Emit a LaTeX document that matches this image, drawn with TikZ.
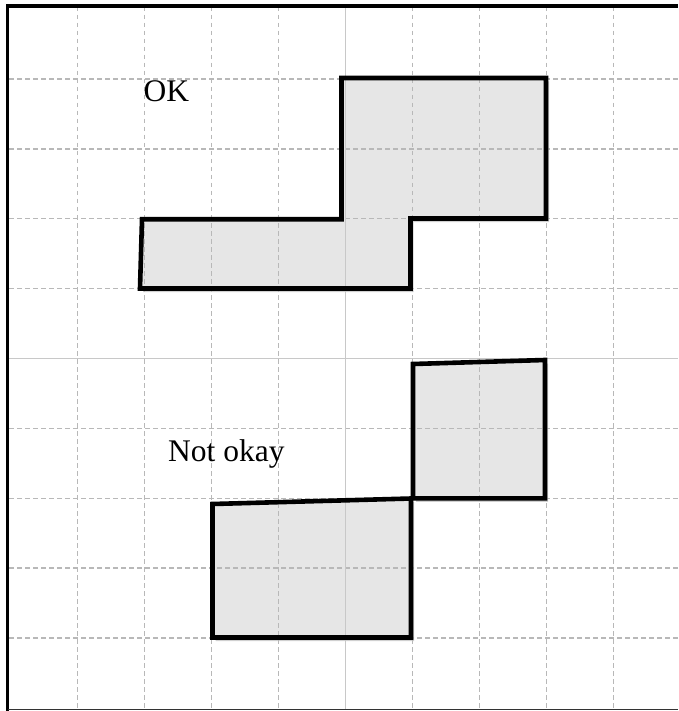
\documentclass[tikz,border=0pt]{standalone}
\usepackage{fontspec}
\setmainfont{Liberation Serif}
\usetikzlibrary{shadows}
\definecolor{gridc}{HTML}{B8B8B8}
\definecolor{axisc}{HTML}{C8C8C8}
\definecolor{shapefill}{HTML}{E6E6E6}
\tikzset{
  gridline/.style={draw=gridc, line width=1.5pt, dash pattern=on 4.5pt off 3.5pt},
  axisline/.style={draw=axisc, line width=1.5pt},
  shapebody/.style={fill=shapefill, drop shadow={shadow xshift=3pt, shadow yshift=-3.5pt, opacity=0.3, fill=black!60}},
  shapeedge/.style={draw=black, line width=4.6pt, line join=miter},
  lbl/.style={font=\fontsize{31.5}{36}\selectfont, inner sep=0pt, anchor=base west}
}
\begin{document}
\begin{tikzpicture}[x=1pt, y=-1pt]
\useasboundingbox (0,0) rectangle (678,711);
\fill[white] (0,0) rectangle (678,711);
% shape bodies
\path[shapebody] (142,219.3) -- (341.5,219.3) -- (341.5,78) -- (546,78) -- (546,218.5) -- (410.5,218.5) -- (410.5,288.5) -- (140,288.5) -- cycle;
\path[shapebody] (413,364) -- (545,360) -- (545,498.3) -- (413,498.3) -- cycle;
\path[shapebody] (212.5,504) -- (411,498.5) -- (411,637.5) -- (212.5,637.5) -- cycle;
% grid
\foreach \k in {1,2,3,4,6,7,8,9} {
  \draw[gridline] ({10.5+67*\k},7) -- ({10.5+67*\k},709);
}
\foreach \k in {1,2,3,4,6,7,8,9} {
  \draw[gridline] (9,{9+69.9*\k}) -- (678,{9+69.9*\k});
}
\draw[axisline] (345.5,7) -- (345.5,709);
\draw[axisline] (9,358.5) -- (678,358.5);
% border
\draw[black, line width=3.5pt] (7.5,711) -- (7.5,6) -- (678,6);
\draw[black!80, line width=1.6pt] (7.5,709.5) -- (678,709.5);
% shape outlines
\draw[shapeedge] (142,219.3) -- (341.5,219.3) -- (341.5,78) -- (546,78) -- (546,218.5) -- (410.5,218.5) -- (410.5,288.5) -- (140,288.5) -- cycle;
\draw[shapeedge] (413,364) -- (545,360) -- (545,498.3) -- (413,498.3) -- cycle;
\draw[shapeedge] (212.5,504) -- (411,498.5) -- (411,637.5) -- (212.5,637.5) -- cycle;
% labels
\node[lbl] (ok) at (143.5,101.5) {OK};
\node[lbl] (notok) at (168,461.5) {Not okay};
\end{tikzpicture}
\end{document}
